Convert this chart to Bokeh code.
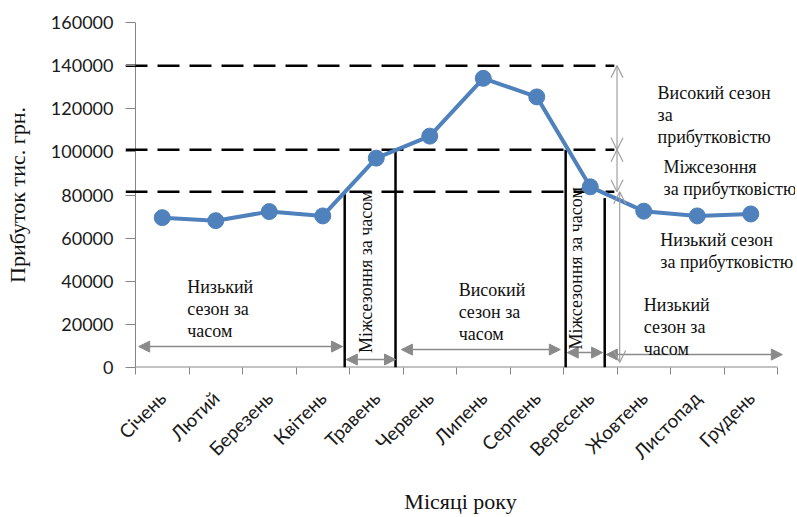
from math import pi
from bokeh.plotting import figure
from bokeh.models import (Range1d, FixedTicker, Arrow, NormalHead, OpenHead, Label,
                          BasicTickFormatter)
from bokeh.embed import file_html
from bokeh.resources import INLINE

months = ["Січень", "Лютий", "Березень", "Квітень", "Травень", "Червень",
          "Липень", "Серпень", "Вересень", "Жовтень", "Листопад", "Грудень"]
profit = [69500, 68100, 72300, 70300, 97100, 107300,
          134100, 125500, 83800, 72500, 70300, 71200]
y_ticks = [0, 20000, 40000, 60000, 80000, 100000, 120000, 140000, 160000]

# profitability thresholds (dashed lines)
thresholds = [140000, 101000, 81500]
threshold_start = -0.187
threshold_end = 8.95

# time-season boundaries (solid verticals)
bound_x = [3.91, 4.86, 8.04, 8.77]
bound_top = [81500, 101000, 101000, 78600]

# time-season arrows
harrow_x0 = [0.06, 3.94, 4.97, 8.07, 8.80]
harrow_x1 = [3.87, 4.86, 7.94, 8.73, 12.09]
harrow_y = [9700, 3700, 8300, 6900, 6000]

# profitability arrows
varrow_x = [9.0, 9.0, 9.05]
varrow_y0 = [140000, 101000, 81500]
varrow_y1 = [101000, 81500, 2300]

# text notes: (x, y, text)
notes = [
    (9.757, 131800, "Високий сезон\nза\nприбутковістю"),
    (9.87, 97600, "Міжсезоння\nза прибутковістю"),
    (9.81, 63800, "Низький сезон\nза прибутковістю"),
    (9.50, 33760, "Низький\nсезон за\nчасом"),
    (6.04, 40700, "Високий\nсезон за\nчасом"),
    (0.966, 42080, "Низький\nсезон за\nчасом"),
]
rot_notes = [(4.31, 44400, "Міжсезоння за часом"), (8.24, 46000, "Міжсезоння за часом")]

xs = [i + 0.5 for i in range(len(months))]
n = len(months)

p = figure(width=795, height=517, x_range=Range1d(threshold_start, n + 0.336),
           y_range=Range1d(0, 160000),
           output_backend="svg", toolbar_location=None,
           min_border_left=125, min_border_right=0, min_border_top=22, min_border_bottom=149)
p.xgrid.visible = False
p.ygrid.visible = False
p.outline_line_color = None
p.background_fill_color = "white"
p.border_fill_color = "white"

axis_col = "#868686"
# y axis (line drawn as a segment at x=0; ticks drawn inward to reach it)
p.yaxis.ticker = FixedTicker(ticks=y_ticks, minor_ticks=[])
p.yaxis.formatter = BasicTickFormatter(use_scientific=False)
p.yaxis.axis_line_color = None
p.yaxis.major_tick_line_color = axis_col
p.yaxis.major_tick_out = 0
p.yaxis.major_tick_in = 10
p.yaxis.minor_tick_line_color = None
p.yaxis.major_label_text_font = "Lato"
p.yaxis.major_label_text_font_size = "18px"
p.yaxis.major_label_text_color = "#1a1a1a"
p.yaxis.major_label_standoff = 12
p.yaxis.axis_label = "Прибуток тис. грн."
p.yaxis.axis_label_text_font = "Liberation Serif"
p.yaxis.axis_label_text_font_size = "22px"
p.yaxis.axis_label_text_font_style = "normal"
p.yaxis.axis_label_text_color = "#111111"
p.yaxis.axis_label_standoff = 18
p.segment(x0=[0], x1=[0], y0=[0], y1=[160000], line_color=axis_col, line_width=1)

# x axis (the axis line is drawn as a segment so it spans only the months)
p.xaxis.ticker = FixedTicker(ticks=xs, minor_ticks=list(range(n + 1)))
p.xaxis.major_label_overrides = {x: m for x, m in zip(xs, months)}
p.xaxis.axis_line_color = None
p.xaxis.major_tick_line_color = None
p.xaxis.major_tick_out = 0
p.xaxis.major_tick_in = 0
p.xaxis.minor_tick_line_color = axis_col
p.xaxis.minor_tick_out = 7
p.xaxis.minor_tick_in = 0
p.xaxis.major_label_orientation = pi / 4
p.xaxis.major_label_text_font = "Lato"
p.xaxis.major_label_text_font_size = "19px"
p.xaxis.major_label_text_color = "#1a1a1a"
p.xaxis.major_label_standoff = 20
p.xaxis.axis_label = "Місяці року"
p.xaxis.axis_label_text_font = "Liberation Serif"
p.xaxis.axis_label_text_font_size = "22px"
p.xaxis.axis_label_text_font_style = "normal"
p.xaxis.axis_label_text_color = "#111111"
p.xaxis.axis_label_standoff = 15
p.segment(x0=[0], x1=[n], y0=[0], y1=[0], line_color=axis_col, line_width=2)

# dashed thresholds
p.segment(x0=[threshold_start] * len(thresholds), x1=[threshold_end] * len(thresholds),
          y0=thresholds, y1=thresholds, line_color="black", line_width=2.5,
          line_dash="22 10")
# solid boundaries
p.segment(x0=bound_x, x1=bound_x, y0=[0] * len(bound_x), y1=bound_top,
          line_color="black", line_width=2.5)

# arrows
grey = "#8a8a8a"
for x0, x1, y in zip(harrow_x0, harrow_x1, harrow_y):
    p.add_layout(Arrow(x_start=x0, y_start=y, x_end=x1, y_end=y,
                       line_color=grey, line_width=1.5,
                       start=NormalHead(size=11, fill_color=grey, line_color=grey),
                       end=NormalHead(size=11, fill_color=grey, line_color=grey)))
for x, y0, y1 in zip(varrow_x, varrow_y0, varrow_y1):
    p.add_layout(Arrow(x_start=x, y_start=y0, x_end=x, y_end=y1,
                       line_color="#a0a0a0", line_width=1.2,
                       start=OpenHead(size=12, line_color="#a0a0a0", line_width=1.2),
                       end=OpenHead(size=12, line_color="#a0a0a0", line_width=1.2)))

# data line
p.line(xs, profit, line_color="#4F81BD", line_width=4)
p.scatter(xs, profit, size=16, fill_color="#4F81BD", line_color="#4F81BD")

for x, y, t in notes:
    p.add_layout(Label(x=x, y=y, text=t, text_font="Liberation Serif",
                       text_font_size="18px", text_baseline="top", text_align="left",
                       text_line_height=1.1, text_color="#111111"))
for x, y, t in rot_notes:
    p.add_layout(Label(x=x, y=y, text=t, text_font="Liberation Serif",
                       text_font_size="18px", text_baseline="middle", text_align="center",
                       angle=pi / 2, text_color="#111111"))

open("out.html", "w").write(file_html(p, INLINE))
